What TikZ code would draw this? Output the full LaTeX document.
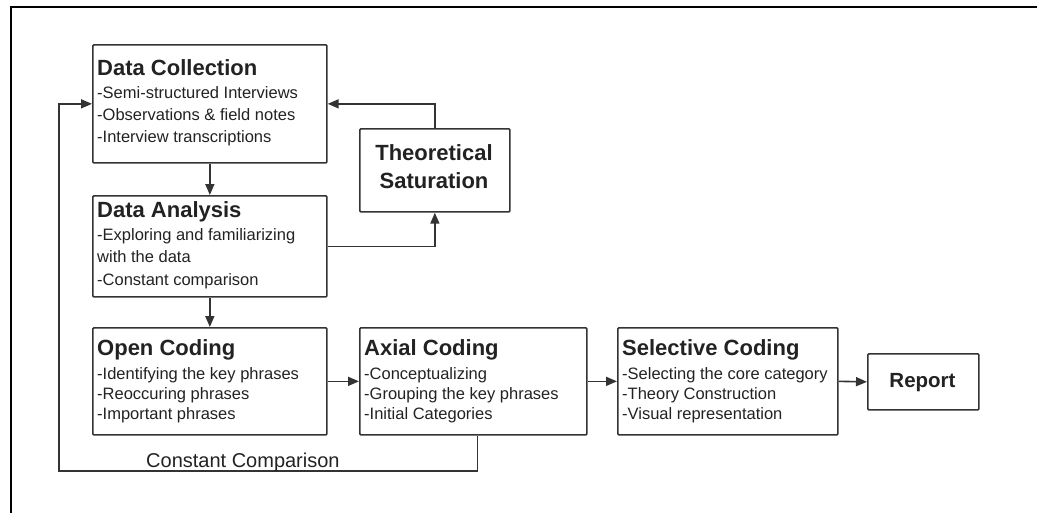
\documentclass[tikz,border=0pt]{standalone}
\usepackage{fontspec}
\setmainfont{Liberation Sans}
\usetikzlibrary{arrows.meta}
\definecolor{ink}{HTML}{333333}
\definecolor{txtc}{HTML}{222222}
\begin{document}
\begin{tikzpicture}[x=1pt,y=-1pt,
  box/.style={draw=ink,line width=1.7pt,rectangle,anchor=north west,inner sep=0pt,rounded corners=1pt},
  ttl/.style={anchor=base west,inner sep=0pt,text=txtc,font=\fontsize{22}{26}\selectfont\bfseries},
  ctl/.style={anchor=base,inner sep=0pt,text=txtc,font=\fontsize{22}{26}\selectfont\bfseries},
  txt/.style={anchor=base west,inner sep=0pt,text=txtc,font=\fontsize{16.5}{20}\selectfont},
  conn/.style={draw=ink,line width=1.6pt,-{Triangle[length=11pt,width=9pt]}},
  frame/.style={draw=black,line width=1.8pt}]
\useasboundingbox (0,0) rectangle (1037,512);
% outer frame (only left and top edges visible)
\coordinate (fbl) at (11,513);
\coordinate (ftl) at (11,7);
\coordinate (ftr) at (1038,7);
\draw[frame] (fbl) -- (ftl) -- (ftr);

% boxes
\node[box,minimum width=234pt,minimum height=118pt] (dc) at (92,44) {};
\node[box,minimum width=234pt,minimum height=101pt] (da) at (92,195) {};
\node[box,minimum width=150pt,minimum height=83pt] (ts) at (359,128) {};
\node[box,minimum width=234pt,minimum height=107pt] (oc) at (92,327) {};
\node[box,minimum width=227pt,minimum height=107pt] (ac) at (359,327) {};
\node[box,minimum width=220pt,minimum height=107pt] (sc) at (617,327) {};
\node[box,minimum width=111pt,minimum height=56pt] (rep) at (867,353) {};

% Data Collection
\node[ttl] (dct) at (97,75) {Data Collection};
\node[txt] (dc1) at (97,98) {-Semi-structured Interviews};
\node[txt] (dc2) at (97,120) {-Observations \& field notes};
\node[txt] (dc3) at (97,142) {-Interview transcriptions};

% Data Analysis
\node[ttl] (dat) at (97,217) {Data Analysis};
\node[txt] (da1) at (97,240) {-Exploring and familiarizing};
\node[txt] (da2) at (97,262) {with the data};
\node[txt] (da3) at (97,285) {-Constant comparison};

% Theoretical Saturation
\node[ctl] (tsa) at (434,160) {Theoretical};
\node[ctl] (tsb) at (434,188) {Saturation};

% Open Coding
\node[ttl] (oct) at (97,355) {Open Coding};
\node[txt] (oc1) at (97,379) {-Identifying the key phrases};
\node[txt] (oc2) at (97,399) {-Reoccuring phrases};
\node[txt] (oc3) at (97,419) {-Important phrases};

% Axial Coding
\node[ttl] (act) at (364,355) {Axial Coding};
\node[txt] (ac1) at (364,379) {-Conceptualizing};
\node[txt] (ac2) at (364,399) {-Grouping the key phrases};
\node[txt] (ac3) at (364,419) {-Initial Categories};

% Selective Coding
\node[ttl] (sct) at (622,355) {Selective Coding};
\node[txt] (sc1) at (622,379) {-Selecting the core category};
\node[txt] (sc2) at (622,399) {-Theory Construction};
\node[txt] (sc3) at (622,419) {-Visual representation};

% Report
\node[anchor=base,inner sep=0pt,text=txtc,font=\fontsize{20.5}{24}\selectfont\bfseries] (rept) at (922.5,387) {Report};

% connectors
\draw[conn] (dc.south) -- (da.north);
\draw[conn] (da.south) -- (oc.north);
\draw[conn] (oc.east) -- (ac.west);
\draw[conn] (ac.east) -- (sc.west);
\draw[conn] (sc.east) -- (rep.west);
\draw[conn] (ts.north) |- (dc.east);
\draw[conn] (da.east) -| (ts.south);
\coordinate (ccl) at (59,471);
\coordinate (acb) at ([xshift=4pt]ac.south);
\draw[conn] (acb) |- (ccl) |- (dc.west);
\node[anchor=base west,inner sep=0pt,text=txtc,font=\fontsize{20}{24}\selectfont] (cct) at (146,467) {Constant Comparison};
\end{tikzpicture}
\end{document}
